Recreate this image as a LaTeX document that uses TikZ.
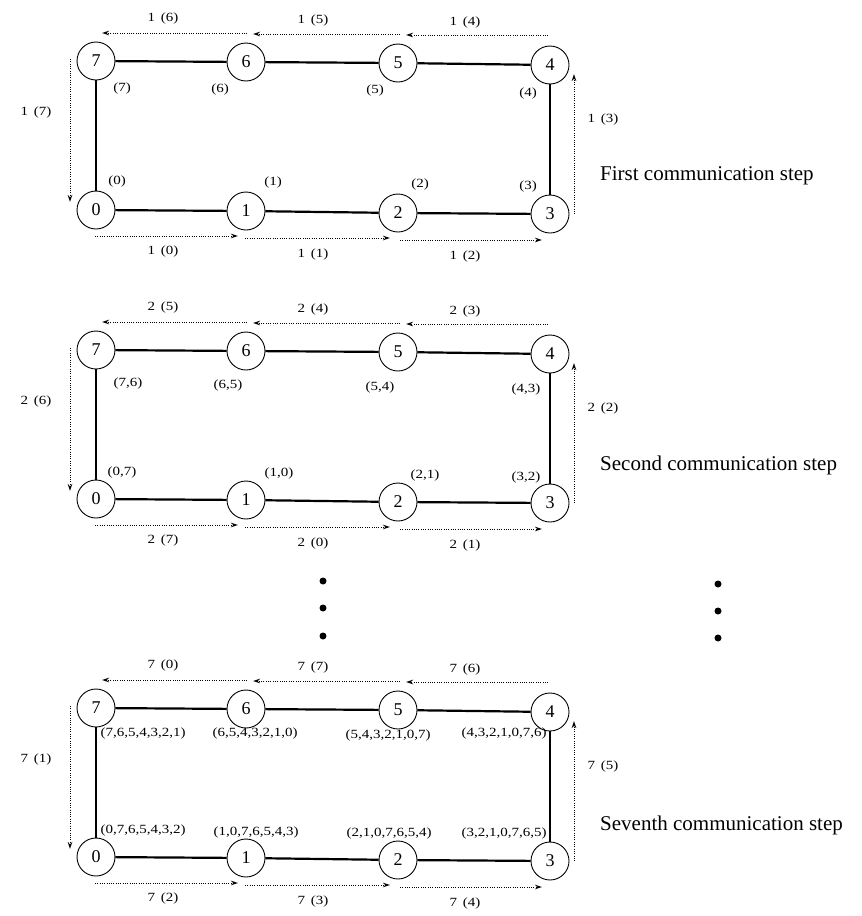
\documentclass[tikz,border=0pt]{standalone}
\usepackage{fontspec}
\setmainfont{Liberation Serif}
\newfontfamily\lblfont[FakeStretch=1.2]{Liberation Serif}
\usetikzlibrary{arrows.meta}
\begin{document}
\begin{tikzpicture}[x=1pt,y=-1pt,
  nd/.style={draw,circle,line width=0.9pt,minimum size=38pt,inner sep=0pt,font=\fontsize{18}{18}\selectfont},
  ring/.style={line width=2.2pt},
  msg/.style={line width=0.9pt,dash pattern=on 0.9pt off 1.4pt,-{Stealth[open,length=7pt,width=4.5pt]}},
  lbl/.style={inner sep=0pt,font=\lblfont\fontsize{12.5}{12.5}\selectfont},
  captext/.style={inner sep=0pt,anchor=west,font=\fontsize{21}{21}\selectfont},
  bigdot/.style={circle,fill,inner sep=0pt,minimum size=7pt}]
\useasboundingbox (0,0) rectangle (862,916);
\foreach \p/\off/\k in {a/0/1,b/289/2,c/647/7}{
  \begin{scope}[shift={(0,\off)}]
    \node[nd] (\p7) at (96,61) {7};
    \node[nd] (\p6) at (246,62) {6};
    \node[nd] (\p5) at (398,63) {5};
    \node[nd] (\p4) at (550,65) {4};
    \node[nd] (\p0) at (96,210) {0};
    \node[nd] (\p1) at (246,211) {1};
    \node[nd] (\p2) at (398,213) {2};
    \node[nd] (\p3) at (550,214) {3};
    \foreach \u/\w in {7/6,6/5,5/4,4/3,3/2,2/1,1/0,0/7}
      \draw[ring] (\p\u) -- (\p\w);
    % message arrows
    \coordinate (\p m4s) at (548,35); \coordinate (\p m4e) at (406,35);
    \coordinate (\p m5s) at (400,34); \coordinate (\p m5e) at (253,34);
    \coordinate (\p m6s) at (247,33); \coordinate (\p m6e) at (102,33);
    \coordinate (\p m7s) at (70,59);  \coordinate (\p m7e) at (70,202);
    \coordinate (\p m0s) at (95,236); \coordinate (\p m0e) at (238,236);
    \coordinate (\p m1s) at (245,238); \coordinate (\p m1e) at (390,238);
    \coordinate (\p m2s) at (400,240); \coordinate (\p m2e) at (542,240);
    \coordinate (\p m3s) at (574,214); \coordinate (\p m3e) at (574,74);
    \foreach \i in {0,...,7}
      \draw[msg] (\p m\i s) -- (\p m\i e);
    \foreach \i/\x/\y in {6/163/18,5/313/20,4/465/22,7/36/112,0/163/251,1/313/254,2/465/256,3/603/119}{
      \pgfmathtruncatemacro\v{mod(\i-\k+9,8)}
      \node[lbl] (\p l\i) at (\x,\y) {\k\hspace{0.45em}(\v)};
    }
  \end{scope}
}
% buffer contents, first step
\node[lbl] (as7) at (122,88) {(7)};
\node[lbl] (as6) at (220,89) {(6)};
\node[lbl] (as5) at (375,90) {(5)};
\node[lbl] (as4) at (528,93) {(4)};
\node[lbl] (as0) at (117,181) {(0)};
\node[lbl] (as1) at (273,182) {(1)};
\node[lbl] (as2) at (420,184) {(2)};
\node[lbl] (as3) at (528,186) {(3)};
% second step
\node[lbl] (bs7) at (128,383) {(7,6)};
\node[lbl] (bs6) at (228,385) {(6,5)};
\node[lbl] (bs5) at (380,387) {(5,4)};
\node[lbl] (bs4) at (526,389) {(4,3)};
\node[lbl] (bs0) at (122,472) {(0,7)};
\node[lbl] (bs1) at (279,473) {(1,0)};
\node[lbl] (bs2) at (425,475) {(2,1)};
\node[lbl] (bs3) at (526,477) {(3,2)};
% seventh step
\node[lbl] (cs7) at (143,733) {(7,6,5,4,3,2,1)};
\node[lbl] (cs6) at (255,733) {(6,5,4,3,2,1,0)};
\node[lbl] (cs5) at (388,735) {(5,4,3,2,1,0,7)};
\node[lbl] (cs4) at (504,733) {(4,3,2,1,0,7,6)};
\node[lbl] (cs0) at (143,830) {(0,7,6,5,4,3,2)};
\node[lbl] (cs1) at (256,832) {(1,0,7,6,5,4,3)};
\node[lbl] (cs2) at (389,833) {(2,1,0,7,6,5,4)};
\node[lbl] (cs3) at (504,833) {(3,2,1,0,7,6,5)};
% captions
\node[captext] (capA) at (600,176) {First communication step};
\node[captext] (capB) at (600,465) {Second communication step};
\node[captext] (capC) at (600,825) {Seventh communication step};
% ellipsis dots
\node[bigdot] (dl1) at (323,581) {};
\node[bigdot] (dl2) at (323,608) {};
\node[bigdot] (dl3) at (323,636) {};
\node[bigdot] (dr1) at (718,584) {};
\node[bigdot] (dr2) at (718,611) {};
\node[bigdot] (dr3) at (718,638) {};
\end{tikzpicture}
\end{document}
